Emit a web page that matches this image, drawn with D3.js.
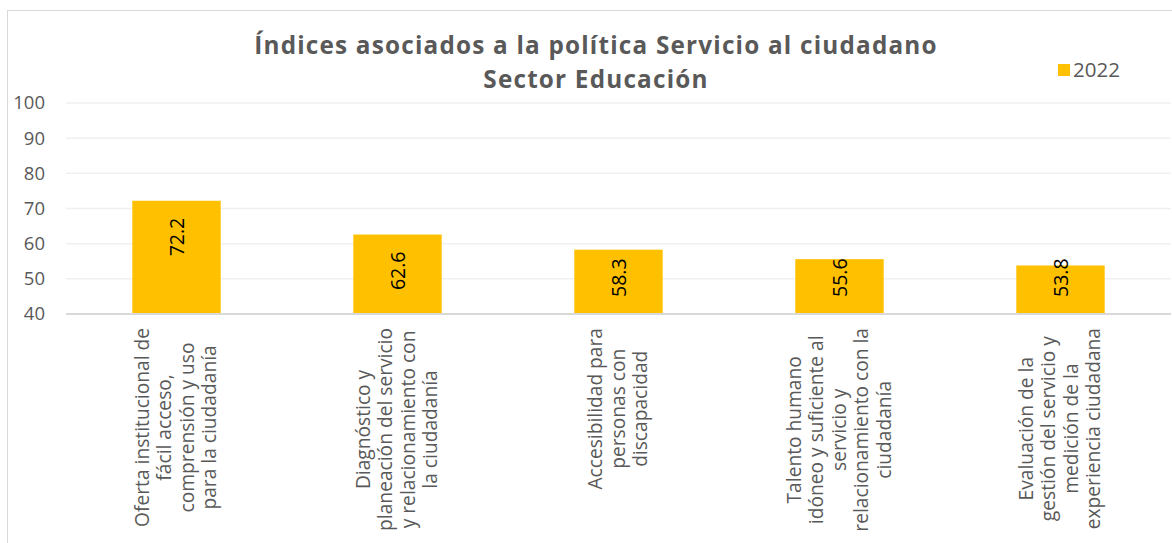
<!DOCTYPE html>
<html><head><meta charset="utf-8">
<script src="https://cdn.jsdelivr.net/npm/d3@7"></script>
<style>body{margin:0;background:#fff;} svg{display:block;} text{font-family:"Open Sans",sans-serif;}</style>
</head><body>
<svg id="c" width="1172" height="543"></svg>
<script>
const categories = [
  ["Oferta institucional de", "fácil acceso,", "comprensión y uso", "para la ciudadanía"],
  ["Diagnóstico y", "planeación del servicio", "y relacionamiento con", "la ciudadanía"],
  ["Accesibilidad para", "personas con", "discapacidad"],
  ["Talento humano", "idóneo y suficiente al", "servicio y", "relacionamiento con la", "ciudadanía"],
  ["Evaluación de la", "gestión del servicio y", "medición de la", "experiencia ciudadana"]
];
const values2022 = [72.2, 62.6, 58.3, 55.6, 53.8];
const yTicks = [40, 50, 60, 70, 80, 90, 100];
const titleLines = ["Índices asociados a la política Servicio al ciudadano", "Sector Educación"];
const seriesName = "2022";

const svg = d3.select("#c");
const gray = "#595959";
svg.append("rect").attr("x", 7.5).attr("y", 10.5).attr("width", 1200).attr("height", 600)
  .attr("fill", "#fff").attr("stroke", "#d9d9d9").attr("stroke-width", 1);

const x = d3.scaleBand().domain(d3.range(categories.length)).range([66, 1171]).paddingInner(0).paddingOuter(0);
const y = d3.scaleLinear().domain([40, 100]).range([314, 103]);

// gridlines
svg.append("g").selectAll("line").data(yTicks.filter(t => t > 40)).join("line")
  .attr("x1", 66).attr("x2", 1171).attr("y1", d => y(d)).attr("y2", d => y(d))
  .attr("stroke", "#f0f0f0").attr("stroke-width", 1.5);

// y axis labels
const yAxis = d3.axisLeft(y).tickValues(yTicks).tickSize(0).tickPadding(0).tickFormat(d3.format("d"));
const gy = svg.append("g").attr("transform", "translate(45,0)").call(yAxis);
gy.select(".domain").remove();
gy.selectAll("text").attr("fill", gray).style("font-size", "18.5px").style("font-family", "'Open Sans', sans-serif");

// bars
const bw = x.bandwidth() * 0.4;
svg.append("g").selectAll("rect").data(values2022).join("rect")
  .attr("x", (d, i) => x(i) + (x.bandwidth() - bw) / 2)
  .attr("width", bw)
  .attr("y", d => y(d)).attr("height", d => y(40) - y(d))
  .attr("fill", "#FFC000");

// baseline
svg.append("line").attr("x1", 66).attr("x2", 1171).attr("y1", y(40)).attr("y2", y(40))
  .attr("stroke", "#d9d9d9").attr("stroke-width", 2);

// data labels
const dl = svg.append("g").selectAll("text").data(values2022).join("text")
  .text(d => d3.format(".1f")(d))
  .attr("text-anchor", "end")
  .style("font-size", "19.5px").attr("fill", "#000");
dl.each(function(d, i) {
  const len = this.getComputedTextLength();
  const top = Math.min(y(d) + 17, y(40) - 17 - len);
  const cx = x(i) + x.bandwidth() / 2 + 7;
  d3.select(this).attr("transform", `translate(${cx},${top}) rotate(-90)`);
});

// x labels
const lh = 22.5;
categories.forEach((lines, i) => {
  const g = svg.append("g");
  const texts = g.selectAll("text").data(lines).join("text").text(d => d)
    .attr("text-anchor", "middle").attr("fill", gray).style("font-size", "19.2px");
  let maxLen = 0;
  texts.each(function() { maxLen = Math.max(maxLen, this.getComputedTextLength()); });
  const cx = x(i) + x.bandwidth() / 2;
  const n = lines.length;
  texts.attr("transform", (d, j) => {
    const colX = cx + (j - (n - 1) / 2) * lh + 6;
    return `translate(${colX},${328 + maxLen / 2}) rotate(-90)`;
  });
});

// title
svg.append("g").selectAll("text").data(titleLines).join("text")
  .attr("x", 596).attr("y", (d, i) => 54 + i * 34).attr("text-anchor", "middle")
  .attr("fill", gray).style("font-size", "24.3px").style("font-weight", "bold")
  .style("letter-spacing", "1.2px").text(d => d);

// legend
svg.append("rect").attr("x", 1058).attr("y", 64).attr("width", 12).attr("height", 12).attr("fill", "#FFC000");
svg.append("text").attr("x", 1073).attr("y", 77).text(seriesName).attr("fill", gray).style("font-size", "20.5px");
</script>
</body></html>
